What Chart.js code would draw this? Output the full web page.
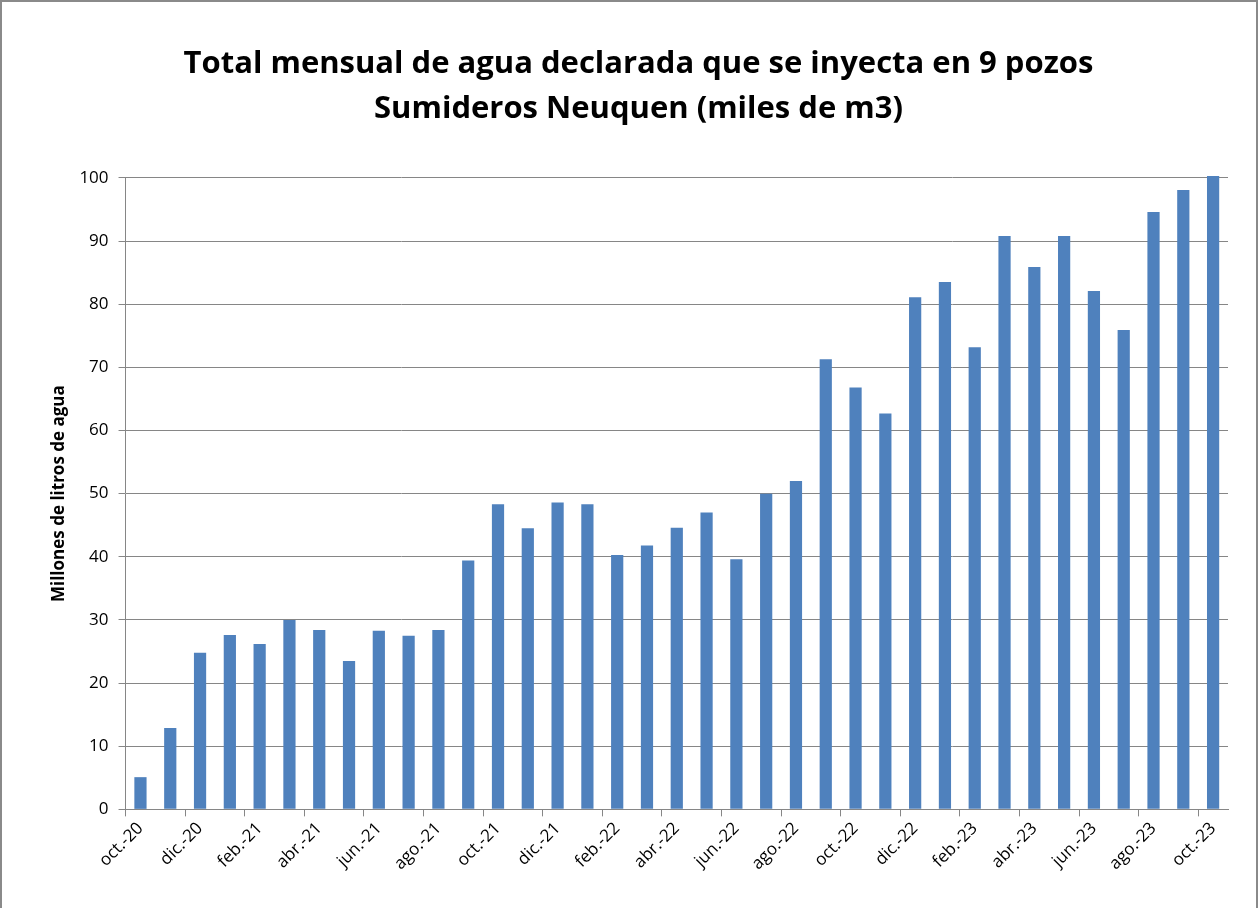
<!DOCTYPE html>
<html>
<head>
<meta charset="utf-8">
<script src="https://cdn.jsdelivr.net/npm/chart.js@4.4.1/dist/chart.umd.min.js"></script>
<style>
  html, body { margin: 0; padding: 0; background: #fff; }
  #frame {
    position: absolute; left: 0; top: 0;
    width: 1254px; height: 906px;
    border: 2px solid #8a8a8a; border-bottom: none;
    background: #fff;
  }
  #wrap { position: absolute; left: 0; top: 0; width: 1254px; height: 906px; }
</style>
</head>
<body>
<div id="frame"><div id="wrap"><canvas id="waterChart"></canvas></div></div>
<script>
// Monthly categories (oct-20 .. oct-23)
const months = [
  'oct.-20', 'nov.-20', 'dic.-20', 'ene.-21', 'feb.-21', 'mar.-21', 'abr.-21', 'may.-21',
  'jun.-21', 'jul.-21', 'ago.-21', 'sep.-21', 'oct.-21', 'nov.-21', 'dic.-21', 'ene.-22',
  'feb.-22', 'mar.-22', 'abr.-22', 'may.-22', 'jun.-22', 'jul.-22', 'ago.-22', 'sep.-22',
  'oct.-22', 'nov.-22', 'dic.-22', 'ene.-23', 'feb.-23', 'mar.-23', 'abr.-23', 'may.-23',
  'jun.-23', 'jul.-23', 'ago.-23', 'sep.-23', 'oct.-23'
];

// Millones de litros de agua
const waterValues = [
  5.1, 12.9, 24.8, 27.6, 26.2, 30.0, 28.4, 23.5,
  28.3, 27.5, 28.4, 39.4, 48.3, 44.5, 48.6, 48.3,
  40.3, 41.8, 44.6, 47.0, 39.6, 50.0, 52.0, 71.3,
  66.8, 62.7, 81.1, 83.5, 73.2, 90.8, 85.9, 90.8,
  82.1, 75.9, 94.6, 98.1, 100.3
];

const yTicks = [0, 10, 20, 30, 40, 50, 60, 70, 80, 90, 100];

const titleLines = [
  'Total mensual de agua declarada que se inyecta en 9 pozos',
  'Sumideros Neuquen (miles de m3)'
];

const axisGray = '#868686';

const ctx = document.getElementById('waterChart').getContext('2d');

const chart = new Chart(ctx, {
  type: 'bar',
  data: {
    labels: months,
    datasets: [{
      data: waterValues,
      backgroundColor: '#4f81bd',
      borderWidth: 0,
      barPercentage: 0.41,
      categoryPercentage: 1.0,
      clip: false
    }]
  },
  options: {
    responsive: true,
    maintainAspectRatio: false,
    animation: false,
    layout: { padding: { left: 47, right: 28, top: 40, bottom: 32 } },
    plugins: {
      legend: { display: false },
      tooltip: { enabled: false },
      title: {
        display: true,
        text: titleLines,
        color: '#000',
        font: { family: 'Open Sans', size: 31, weight: 'bold', lineHeight: 1.45 },
        padding: { top: 0, bottom: 46 }
      }
    },
    scales: {
      x: {
        offset: true,
        grid: {
          offset: true,
          drawOnChartArea: false,
          tickLength: 7,
          tickColor: c => (c.index % 2 === 0 ? axisGray : 'rgba(0,0,0,0)')
        },
        border: { color: axisGray, width: 1 },
        ticks: {
          autoSkip: false,
          maxRotation: 45,
          minRotation: 45,
          color: '#000',
          padding: 2,
          font: { family: 'Open Sans', size: 17 },
          callback: function (value, index) {
            return index % 2 === 0 ? this.getLabelForValue(value) : '';
          }
        }
      },
      y: {
        min: 0,
        max: 100,
        afterBuildTicks: axis => { axis.ticks = yTicks.map(v => ({ value: v })); },
        grid: { color: axisGray, tickLength: 7, tickColor: axisGray },
        border: { color: axisGray, width: 1 },
        ticks: {
          color: '#000',
          padding: 10,
          font: { family: 'Open Sans', size: 17 }
        },
        title: {
          display: true,
          text: 'Millones de litros de agua',
          color: '#000',
          font: { family: 'Open Sans', size: 17, weight: 'bold' },
          padding: { top: 0, bottom: 0 }
        }
      }
    }
  }
});
</script>
</body>
</html>
